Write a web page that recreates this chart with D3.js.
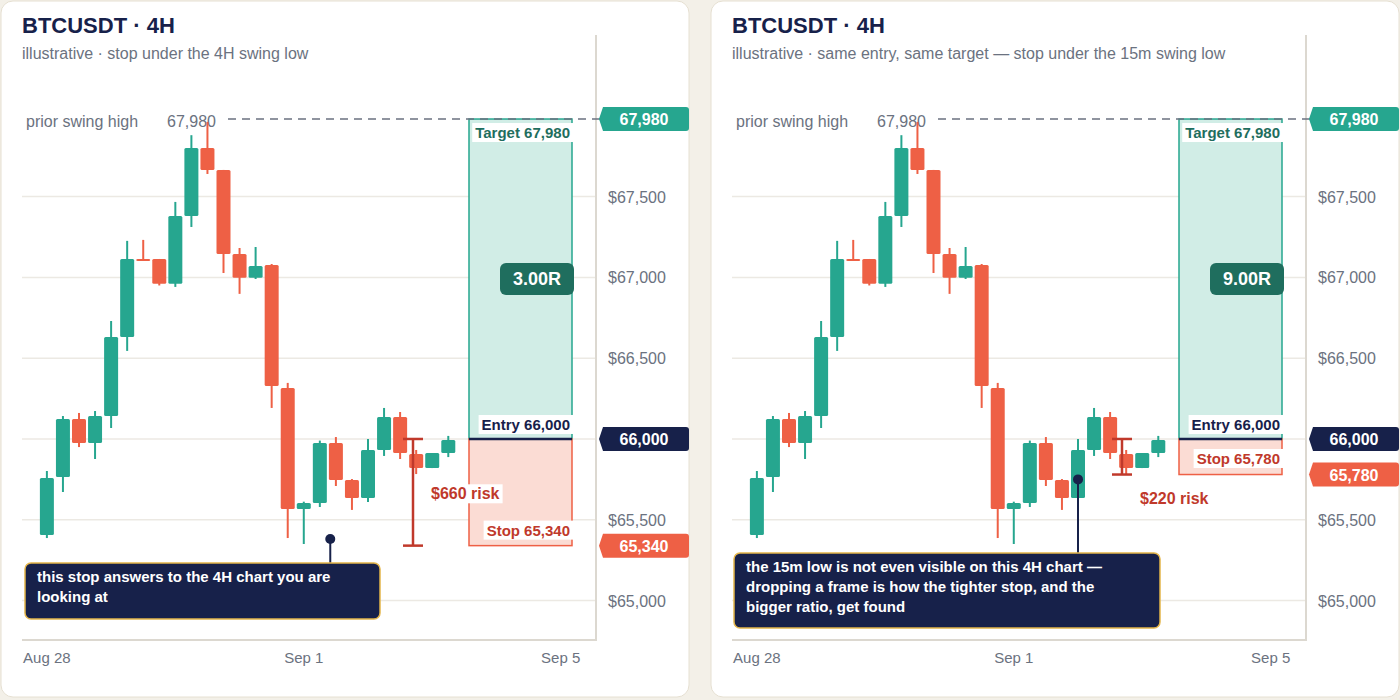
<!DOCTYPE html><html><head><meta charset="utf-8">
<script src="https://cdn.jsdelivr.net/npm/d3@7"></script>
<style>body{margin:0;background:#f3f0e8;font-family:"Liberation Sans",Arial,sans-serif}</style></head><body>
<svg id="c" width="1400" height="700"></svg>
<script>
const opens  =[65406,65765,66124,65975,66142,66631,67114,67114,66960,67380,67800,67665,67145,66997,67077,66316,65567,65604,65975,65746,65635,65932,66136,65907,65820,65913];
const closes =[65759,66124,65975,66142,66631,67114,67102,66960,67380,67800,67665,67145,66997,67071,66328,65567,65604,65975,65746,65635,65932,66136,65913,65820,65913,65994];
const highs  =[65802,66142,66161,66173,66730,67226,67232,67114,67467,67880,67962,67665,67182,67188,67083,66347,65612,65990,66012,65752,66000,66192,66167,65932,65913,66019];
const lows   =[65387,65672,65950,65876,66068,66545,67102,66950,66941,67312,67640,67027,66898,66990,66192,65387,65350,65579,65709,65561,65610,65895,65876,65783,65820,65888];
const priceTicks=[65000,65500,66000,66500,67000,67500];
const dateTicks=[{i:0,t:"Aug 28"},{i:16,t:"Sep 1"},{i:32,t:"Sep 5"}];
const entry=66000, target=67980;
const panels=[
 {ox:0,title:"BTCUSDT · 4H",sub:"illustrative · stop under the 4H swing low",stop:65340,r:"3.00R",risk:"$660 risk",
  note:["this stop answers to the 4H chart you are","looking at"],noteI:17.65,noteV:65381,noteBox:[25,563,355,56]},
 {ox:710,title:"BTCUSDT · 4H",sub:"illustrative · same entry, same target — stop under the 15m swing low",stop:65780,r:"9.00R",risk:"$220 risk",
  note:["the 15m low is not even visible on this 4H chart —","dropping a frame is how the tighter stop, and the","bigger ratio, get found"],noteI:20,noteV:65750,noteBox:[24,553,426,75]}
];
const G="#26a68f",R="#ee6045",N="#17214a";
const svg=d3.select("#c");
const fmt=d3.format(",");
panels.forEach(p=>{
 const g=svg.append("g").attr("transform",`translate(${p.ox},0)`);
 g.append("rect").attr("x",1).attr("y",1).attr("width",688).attr("height",696).attr("rx",12).attr("fill","#fff").attr("stroke","#e6e0d2");
 g.append("text").attr("x",22).attr("y",33).attr("font-size",22).attr("font-weight","bold").attr("fill",N).text(p.title);
 g.append("text").attr("x",22).attr("y",59).attr("font-size",16).attr("fill","#6b7280").text(p.sub);
 const x=d3.scaleLinear().domain([-1.55,34.2]).range([22,596]);
 const y=d3.scaleLinear().domain([64756,68500]).range([640,35]);
 priceTicks.forEach(v=>{
  g.append("line").attr("x1",22).attr("x2",596).attr("y1",y(v)).attr("y2",y(v)).attr("stroke","#ece9e3").attr("stroke-width",1.5);
  if(v!==entry) g.append("text").attr("x",608).attr("y",y(v)+6).attr("font-size",16).attr("fill","#6b7280").text("$"+fmt(v));
 });
 g.append("line").attr("x1",596).attr("x2",596).attr("y1",35).attr("y2",641).attr("stroke","#dcd8d0").attr("stroke-width",2);
 g.append("line").attr("x1",22).attr("x2",596).attr("y1",640).attr("y2",640).attr("stroke","#dcd8d0").attr("stroke-width",2);
 dateTicks.forEach(d=>g.append("text").attr("x",x(d.i)).attr("y",663).attr("text-anchor","middle").attr("font-size",15).attr("fill","#6b7280").text(d.t));
 const bx0=469,bx1=572;
 g.append("rect").attr("x",bx0).attr("y",y(target)).attr("width",bx1-bx0).attr("height",y(entry)-y(target)).attr("fill","#d1ede6").attr("stroke",G).attr("stroke-width",1.5);
 g.append("rect").attr("x",bx0).attr("y",y(entry)).attr("width",bx1-bx0).attr("height",y(p.stop)-y(entry)).attr("fill","#fbdcd4").attr("stroke",R).attr("stroke-width",1.5);
 g.append("line").attr("x1",bx0).attr("x2",bx1).attr("y1",y(entry)).attr("y2",y(entry)).attr("stroke",N).attr("stroke-width",2.5);
 g.append("line").attr("x1",228).attr("x2",690).attr("y1",y(target)).attr("y2",y(target)).attr("stroke","#6b7280").attr("stroke-dasharray","8,6").attr("stroke-width",1.5);
 g.append("text").attr("x",26).attr("y",y(target)+8).attr("font-size",16).attr("fill","#6b7280").text("prior swing high");
 g.append("text").attr("x",216).attr("y",y(target)+8).attr("text-anchor","end").attr("font-size",16).attr("fill","#6b7280").text(fmt(target));
 opens.forEach((o,i)=>{
  const c=closes[i],col=c>=o?G:R,cx=x(i);
  g.append("line").attr("x1",cx).attr("x2",cx).attr("y1",y(highs[i])).attr("y2",y(lows[i])).attr("stroke",col).attr("stroke-width",2);
  g.append("rect").attr("x",cx-7).attr("y",y(Math.max(o,c))).attr("width",14).attr("height",Math.max(2,Math.abs(y(o)-y(c)))).attr("rx",1.5).attr("fill",col);
 });
 const lab=(txt,yy,col)=>{const t=g.append("text").attr("x",bx1-2).attr("y",yy).attr("text-anchor","end").attr("font-size",15).attr("font-weight","bold").attr("fill",col).text(txt);
   const b=t.node().getBBox();g.insert("rect",()=>t.node()).attr("x",b.x-3).attr("y",b.y-1).attr("width",b.width+6).attr("height",b.height+2).attr("fill","#fff");};
 lab("Target "+fmt(target),y(target)+19,"#1f6e5e");
 lab("Entry "+fmt(entry),y(entry)-9,N);
 if(p.stop<65500) lab("Stop "+fmt(p.stop),y(p.stop)-10,"#c0392b"); else lab("Stop "+fmt(p.stop),y(entry)+25,"#c0392b");
 const rm=(y(target)+y(entry))/2;
 g.append("rect").attr("x",500).attr("y",rm-16).attr("width",74).attr("height",32).attr("rx",6).attr("fill","#1f6e5e");
 g.append("text").attr("x",537).attr("y",rm+6).attr("text-anchor","middle").attr("font-size",18).attr("font-weight","bold").attr("fill","#fff").text(p.r);
 const bxr=p.stop<65500?413:412;
 g.append("line").attr("x1",bxr).attr("x2",bxr).attr("y1",y(entry)).attr("y2",y(p.stop)).attr("stroke","#c0392b").attr("stroke-width",2.5);
 [entry,p.stop].forEach(v=>g.append("line").attr("x1",bxr-10).attr("x2",bxr+10).attr("y1",y(v)).attr("y2",y(v)).attr("stroke","#c0392b").attr("stroke-width",2.5));
 const rt=g.append("text").attr("font-size",16).attr("font-weight","bold").attr("fill","#c0392b").text(p.risk);
 if(p.stop<65500){rt.attr("x",431).attr("y",(y(entry)+y(p.stop))/2+7);const b=rt.node().getBBox();g.insert("rect",()=>rt.node()).attr("x",b.x-3).attr("y",b.y-1).attr("width",b.width+6).attr("height",b.height+2).attr("fill","#fff");}
 else rt.attr("x",430).attr("y",y(p.stop)+29);
 [[target,G],[entry,N],[p.stop,R]].forEach(([v,col])=>{
  const yy=y(v);
  g.append("path").attr("d",`M599,${yy} L603,${yy-12} L686,${yy-12} Q689,${yy-12} 689,${yy-9} L689,${yy+9} Q689,${yy+12} 686,${yy+12} L603,${yy+12} Z`).attr("fill",col);
  g.append("text").attr("x",644).attr("y",yy+6).attr("text-anchor","middle").attr("font-size",16).attr("font-weight","bold").attr("fill","#fff").text(fmt(v));
 });
 const ny=y(p.noteV);
 const [bxn,byn,bw,bh]=p.noteBox;
 g.append("line").attr("x1",x(p.noteI)).attr("x2",x(p.noteI)).attr("y1",ny).attr("y2",byn).attr("stroke",N).attr("stroke-width",2);
 g.append("circle").attr("cx",x(p.noteI)).attr("cy",ny).attr("r",5).attr("fill",N);
 g.append("rect").attr("x",bxn).attr("y",byn).attr("width",bw).attr("height",bh).attr("rx",6).attr("fill",N).attr("stroke","#e4b54a").attr("stroke-width",1.5);
 p.note.forEach((l,k)=>g.append("text").attr("x",bxn+12).attr("y",byn+19+k*20).attr("font-size",15).attr("font-weight","bold").attr("fill","#fff").text(l));
});
</script></body></html>
